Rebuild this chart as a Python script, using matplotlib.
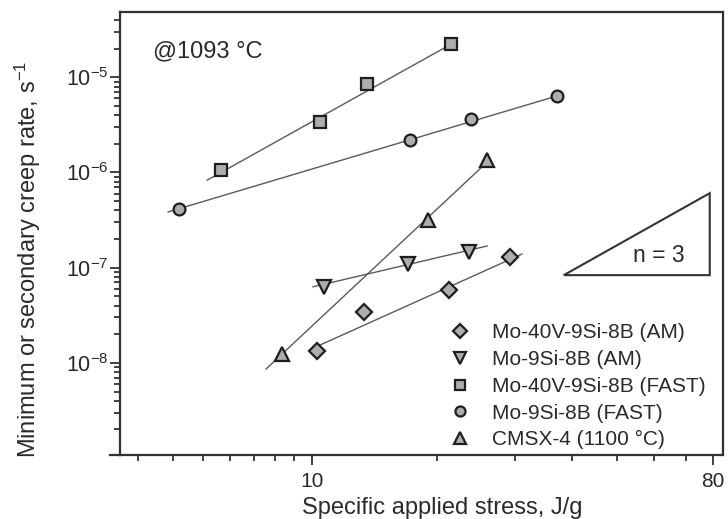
import numpy as np
import matplotlib
matplotlib.use("Agg")
import matplotlib.pyplot as plt
from matplotlib.patches import Polygon
from matplotlib.ticker import FixedLocator, FixedFormatter, LogLocator, NullFormatter

# ---------------- data ----------------
am40_x = [10.3, 13.5, 21.3, 29.2]
am40_y = [1.33e-8, 3.43e-8, 5.83e-8, 1.29e-7]
am9_x = [10.7, 17.1, 23.7]
am9_y = [6.3e-8, 1.09e-7, 1.46e-7]
fast40_x = [5.65, 10.5, 13.7, 21.6]
fast40_y = [1.06e-6, 3.39e-6, 8.5e-6, 2.24e-5]
fast9_x = [4.19, 17.3, 23.9, 37.1]
fast9_y = [4.14e-7, 2.19e-6, 3.65e-6, 6.37e-6]
cmsx_x = [8.35, 19.1, 26.0]
cmsx_y = [1.24e-8, 3.17e-7, 1.35e-6]

# fitted lines (end points)
am40_fit_x = [10.48, 31.07]
am40_fit_y = [1.54e-8, 1.39e-7]
am9_fit_x = [10.06, 25.99]
am9_fit_y = [6.3e-8, 1.69e-7]
fast40_fit_x = [5.13, 21.6]
fast40_fit_y = [8.3e-7, 2.24e-5]
fast9_fit_x = [3.85, 37.1]
fast9_fit_y = [3.85e-7, 6.37e-6]
cmsx_fit_x = [7.57, 25.6]
cmsx_fit_y = [8.63e-9, 1.2e-6]

series_labels = ["Mo-40V-9Si-8B (AM)", "Mo-9Si-8B (AM)", "Mo-40V-9Si-8B (FAST)",
                 "Mo-9Si-8B (FAST)", "CMSX-4 (1100 °C)"]

x_major = [10, 80]
x_major_labels = ["10", "80"]
x_minor = [3, 4, 5, 6, 7, 8, 9, 20, 30, 40, 50, 60, 70]
y_major = [1e-8, 1e-7, 1e-6, 1e-5]
y_major_labels = [r"$10^{-8}$", r"$10^{-7}$", r"$10^{-6}$", r"$10^{-5}$"]

# ---------------- style ----------------
plt.rcParams["font.family"] = ["Liberation Sans", "DejaVu Sans"]
plt.rcParams["mathtext.fontset"] = "custom"
plt.rcParams["mathtext.rm"] = "Liberation Sans"
plt.rcParams["mathtext.it"] = "Liberation Sans:italic"
plt.rcParams["mathtext.bf"] = "Liberation Sans:bold"

TXT = "#2a2a2a"
SPINE = "#333333"
FACE = "#adadad"
EDGE = "#1e1e1e"
LINE = "#5a5a5a"

fig = plt.figure(figsize=(7.28, 5.19), dpi=100)
ax = fig.add_axes([120 / 728, 1 - 455 / 519, 603 / 728, 443 / 519])

C = 2.5
ax.set_xscale("function", functions=(lambda x: np.log10(np.maximum(x + C, 1e-9)),
                                     lambda y: 10 ** y - C))
ax.set_yscale("log")
ax.set_xlim(2.564, 83.98)
ax.set_ylim(1.078e-9, 4.85e-5)

# fit lines
for fx, fy in [(am40_fit_x, am40_fit_y), (am9_fit_x, am9_fit_y),
               (fast40_fit_x, fast40_fit_y), (fast9_fit_x, fast9_fit_y),
               (cmsx_fit_x, cmsx_fit_y)]:
    ax.plot(fx, fy, color=LINE, lw=1.0, zorder=2)

mk = dict(ls="none", mfc=FACE, mec=EDGE, mew=1.6, zorder=3)
h1, = ax.plot(am40_x, am40_y, marker="D", ms=8.0, **mk)
h2, = ax.plot(am9_x, am9_y, marker="v", ms=10.0, **mk)
h3, = ax.plot(fast40_x, fast40_y, marker="s", ms=8.0, **mk)
h4, = ax.plot(fast9_x, fast9_y, marker="o", ms=8.5, **mk)
h5, = ax.plot(cmsx_x, cmsx_y, marker="^", ms=10.0, **mk)

leg = ax.legend([h1, h2, h3, h4, h5], series_labels, loc="upper left",
                bbox_to_anchor=(0.547, 0.297), frameon=False, fontsize=15,
                markerscale=0.85, handlelength=1.0, handletextpad=1.0,
                labelspacing=0.37, borderpad=0, borderaxespad=0)
for t in leg.get_texts():
    t.set_color(TXT)

# ticks
ax.xaxis.set_major_locator(FixedLocator(x_major))
ax.xaxis.set_major_formatter(FixedFormatter(x_major_labels))
ax.xaxis.set_minor_locator(FixedLocator(x_minor))
ax.xaxis.set_minor_formatter(NullFormatter())
ax.yaxis.set_major_locator(FixedLocator(y_major))
ax.yaxis.set_major_formatter(FixedFormatter(y_major_labels))
ax.yaxis.set_minor_locator(LogLocator(base=10, subs=np.arange(2, 10), numticks=20))
ax.yaxis.set_minor_formatter(NullFormatter())

ax.tick_params(which="both", direction="out", color=SPINE, width=1.3,
               labelcolor=TXT, labelsize=15, top=False, right=False)
ax.tick_params(which="major", length=7, pad=5)
ax.tick_params(axis="y", which="major", pad=1.5, labelsize=15.5)
ax.tick_params(which="minor", length=4.5)

for s in ax.spines.values():
    s.set_color(SPINE)
    s.set_linewidth(1.6)
# small extension of the bottom axis line to the left
ax.plot([-0.017, 0], [0, 0], transform=ax.transAxes, color=SPINE, lw=1.6,
        clip_on=False, zorder=5)

ax.set_xlabel("Specific applied stress, J/g", fontsize=17, color=TXT, va="center")
ax.xaxis.set_label_coords(0.534, -0.12)
ax.set_ylabel(r"Minimum or secondary creep rate, s$^{-1}$", fontsize=17,
              color=TXT, va="center")
ax.yaxis.set_label_coords(-0.153, 0.442)

ax.text(0.055, 0.912, "@1093 °C", transform=ax.transAxes, fontsize=17,
        color=TXT, ha="left", va="center")

tri = Polygon([[0.736, 0.406], [0.978, 0.406], [0.978, 0.591]], closed=True,
              fill=False, edgecolor=SPINE, lw=1.5, transform=ax.transAxes)
ax.add_patch(tri)
ax.text(0.894, 0.451, "n = 3", transform=ax.transAxes, fontsize=16.5,
        color=TXT, ha="center", va="center")

fig.savefig("out.png", dpi=100)
